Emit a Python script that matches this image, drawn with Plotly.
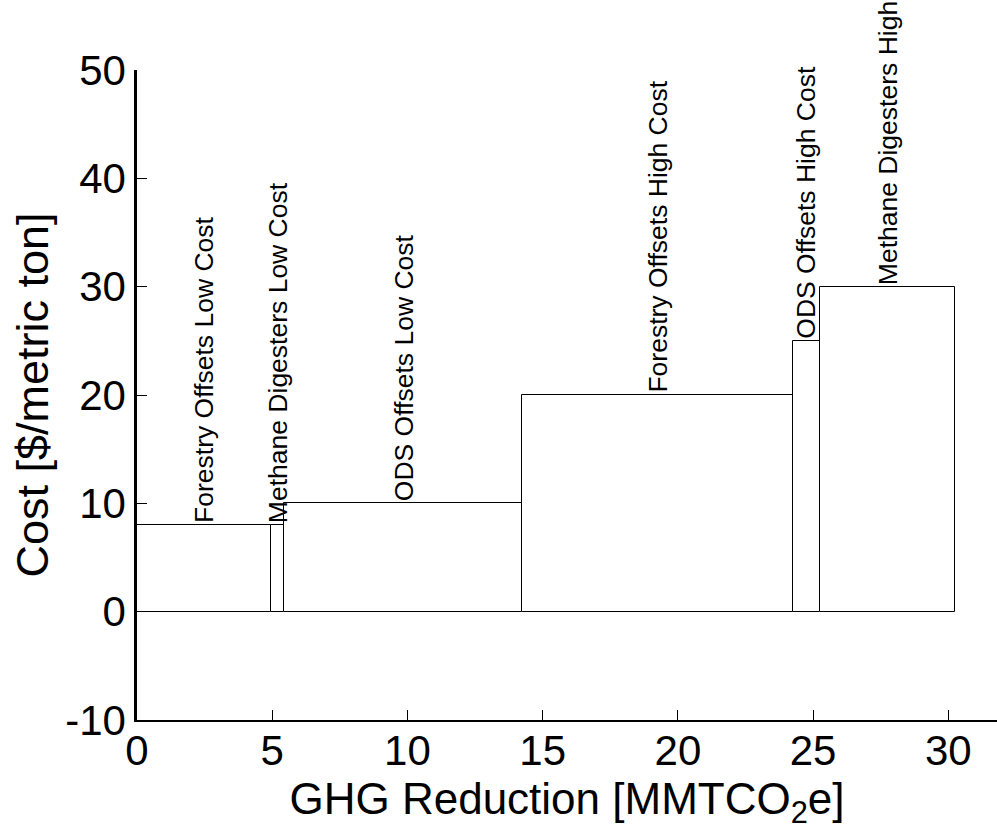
import plotly.graph_objects as go

# Data
categories = [
    "Forestry Offsets Low Cost",
    "Methane Digesters Low Cost",
    "ODS Offsets Low Cost",
    "Forestry Offsets High Cost",
    "ODS Offsets High Cost",
    "Methane Digesters High",
]
reductions = [4.95, 0.5, 8.8, 10.0, 1.0, 5.0]   # MMTCO2e (bar widths)
costs = [8, 8, 10, 20, 25, 30]                  # $/metric ton
x_ticks = [0, 5, 10, 15, 20, 25, 30]
y_ticks = [-10, 0, 10, 20, 30, 40, 50]
y_tick_labels = ["-10", "0", "10", "20", "30", "40", "50"]

# cumulative positions
starts = []
acc = 0.0
for w in reductions:
    starts.append(acc)
    acc += w
centers = [s + w / 2 for s, w in zip(starts, reductions)]

FONT = "Arial, 'Liberation Sans', Helvetica, sans-serif"

fig = go.Figure()
fig.add_trace(go.Bar(
    x=centers, y=costs, width=reductions, base=0,
    marker=dict(color="white", line=dict(color="black", width=1)),
    hoverinfo="text", hovertext=categories, showlegend=False,
))

for c, y, name in zip(centers, costs, categories):
    fig.add_annotation(
        x=c, y=y, text=name, textangle=-90, showarrow=False,
        xanchor="center", yanchor="bottom", yshift=0,
        font=dict(family=FONT, size=26.5, color="black"),
    )

fig.update_layout(
    width=997, height=830,
    margin=dict(l=137, r=0, t=70, b=110, autoexpand=False),
    paper_bgcolor="white", plot_bgcolor="white",
    font=dict(family=FONT, color="black"),
    bargap=0,
)
fig.update_xaxes(
    range=[0, 31.8], tickvals=x_ticks, ticks="inside", ticklen=10,
    tickcolor="black", tickwidth=1, automargin=False,
    showline=True, linecolor="black", linewidth=1.5,
    showgrid=False, zeroline=False, ticklabelstandoff=-7,
    tickfont=dict(family=FONT, size=42),
    title=dict(text="GHG Reduction [MMTCO<sub>2</sub>e]",
               font=dict(family=FONT, size=44), standoff=7),
)
fig.update_yaxes(
    range=[-10, 50], tickvals=y_ticks, ticktext=y_tick_labels,
    ticks="inside", ticklen=10,
    tickcolor="black", tickwidth=1, automargin=False,
    showline=True, linecolor="black", linewidth=2.5,
    showgrid=False, zeroline=False,
    tickfont=dict(family=FONT, size=42),
    title=dict(text="Cost [$/metric ton]",
               font=dict(family=FONT, size=45), standoff=3),
)

fig.write_html(
    "out.html",
    config={"displayModeBar": False},
    post_script="document.body.style.margin='0';document.body.style.padding='0';",
)
